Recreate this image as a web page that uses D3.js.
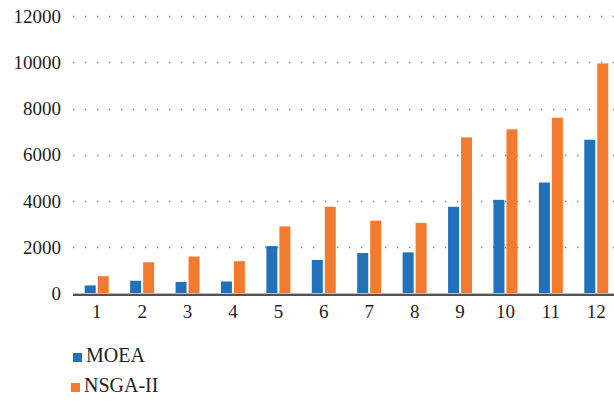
<!DOCTYPE html>
<html>
<head>
<meta charset="utf-8">
<script src="https://cdn.jsdelivr.net/npm/d3@7"></script>
<style>
  html, body { margin: 0; padding: 0; background: #fff; }
  svg { display: block; }
  text { font-family: "Liberation Serif", "DejaVu Serif", serif; fill: #231f20; }
</style>
</head>
<body>
<svg id="chart" width="614" height="402"></svg>
<script>
// Runs 1..12, values per algorithm
const categories = ["1", "2", "3", "4", "5", "6", "7", "8", "9", "10", "11", "12"];
const moea   = [350, 550, 500, 520, 2050, 1450, 1750, 1780, 3750, 4050, 4800, 6650];
const nsga2  = [750, 1350, 1600, 1400, 2900, 3750, 3150, 3050, 6750, 7100, 7600, 9950];
const seriesNames = ["MOEA", "NSGA-II"];
const yTicks = [0, 2000, 4000, 6000, 8000, 10000, 12000];
const colors = ["#2172bb", "#f37b2f"];

const svg = d3.select("#chart");
const plotLeft = 73, plotRight = 614;
const x = d3.scaleBand().domain(categories).range([74, 619]).paddingInner(0).paddingOuter(0);
const y = d3.scaleLinear().domain([0, 12000]).range([293.5, 16]);

// dotted horizontal gridlines
svg.append("g")
  .selectAll("line")
  .data(yTicks.filter(d => d > 0))
  .join("line")
  .attr("x1", plotLeft).attr("x2", plotRight)
  .attr("y1", d => Math.round(y(d)) + 0.5).attr("y2", d => Math.round(y(d)) + 0.5)
  .attr("stroke", "#7f7f7f")
  .attr("stroke-width", 1.3)
  .attr("stroke-dasharray", "1.3,10.7");

// y axis labels
const yAxis = d3.axisLeft(y).tickValues(yTicks).tickSize(0).tickPadding(12).tickFormat(d3.format("d"));
svg.append("g")
  .attr("transform", `translate(${plotLeft},0)`)
  .call(yAxis)
  .call(g => g.select(".domain").remove())
  .call(g => g.selectAll("text").attr("font-size", 19).attr("font-family", "Liberation Serif").attr("fill", "#231f20"));

// bars
const barW = 11, gap = 2;
const series = [moea, nsga2];
series.forEach((vals, si) => {
  svg.append("g")
    .selectAll("rect")
    .data(vals)
    .join("rect")
    .attr("x", (d, i) => x(categories[i]) + x.bandwidth() / 2 + (si === 0 ? -gap / 2 - barW : gap / 2))
    .attr("y", d => y(d))
    .attr("width", barW)
    .attr("height", d => y(0) - y(d))
    .attr("fill", colors[si]);
});

// baseline
svg.append("line")
  .attr("x1", plotLeft).attr("x2", plotRight)
  .attr("y1", 293.5).attr("y2", 293.5)
  .attr("stroke", "#bdbdbd").attr("stroke-width", 1);
svg.append("line")
  .attr("x1", plotLeft).attr("x2", plotRight)
  .attr("y1", 295).attr("y2", 295)
  .attr("stroke", "#1a1a1a").attr("stroke-width", 1.6);

// x axis labels
const xAxis = d3.axisBottom(x).tickSize(0).tickPadding(10);
svg.append("g")
  .attr("transform", "translate(0,295)")
  .call(xAxis)
  .call(g => g.select(".domain").remove())
  .call(g => g.selectAll("text").attr("font-size", 19).attr("font-family", "Liberation Serif").attr("fill", "#231f20"));

// legend
const legend = svg.append("g");
const legendItems = [
  { name: seriesNames[0], color: colors[0], sx: 73, base: 362 },
  { name: seriesNames[1], color: colors[1], sx: 71, base: 392 }
];
legendItems.forEach(it => {
  legend.append("rect").attr("x", it.sx).attr("y", it.base - 9).attr("width", 9).attr("height", 9).attr("fill", it.color);
  legend.append("text").attr("x", it.sx + 13).attr("y", it.base).attr("font-size", 20).text(it.name);
});
</script>
</body>
</html>
